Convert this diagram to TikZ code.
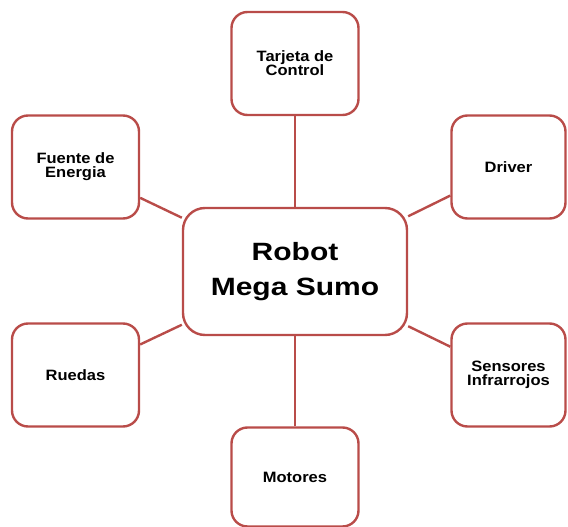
\documentclass[tikz,border=0pt]{standalone}
\usepackage{fontspec}
\setmainfont{Liberation Sans}
\newfontfamily\bigfont[FakeStretch=1.2]{Liberation Sans}
\newfontfamily\smallfont[FakeStretch=1.1]{Liberation Sans}
\definecolor{borde}{RGB}{185,76,73}
\tikzset{
  caja/.style={draw=borde, line width=2.4pt, rounded corners=16pt, fill=white,
    minimum width=127pt, minimum height=103pt, inner sep=0pt, align=center,
    font=\smallfont\bfseries\fontsize{15}{14}\selectfont},
  enlace/.style={draw=borde, line width=2.4pt}
}
\begin{document}
\begin{tikzpicture}[x=1pt,y=-1pt]
\useasboundingbox (0,0) rectangle (568,527);

\node[caja, minimum width=224pt, minimum height=127pt, rounded corners=22pt,
  font=\bigfont\bfseries\fontsize{25}{35}\selectfont] (robot) at (295,271.5) {Robot\\Mega Sumo};

\foreach \nombre/\x/\y/\ancho/\alto/\texto in {
    control/295/63.5/127/103/{Tarjeta de\\Control},
    fuente/75.5/167/127/103/{Fuente de\\Energia},
    driver/508.5/167/114/103/{Driver},
    ruedas/75.5/375/127/103/{Ruedas},
    sensores/508.5/375/114/103/{Sensores\\Infrarrojos},
    motores/295/477/127/99/{Motores}}
    {
        \node[caja, minimum width=\ancho pt, minimum height=\alto pt] (\nombre) at (\x,\y) {\texto};
    }

\foreach \nombre in {control,fuente,driver,ruedas,sensores,motores}
    {
        \draw[enlace] (\nombre) -- (robot);
    }
\end{tikzpicture}
\end{document}
